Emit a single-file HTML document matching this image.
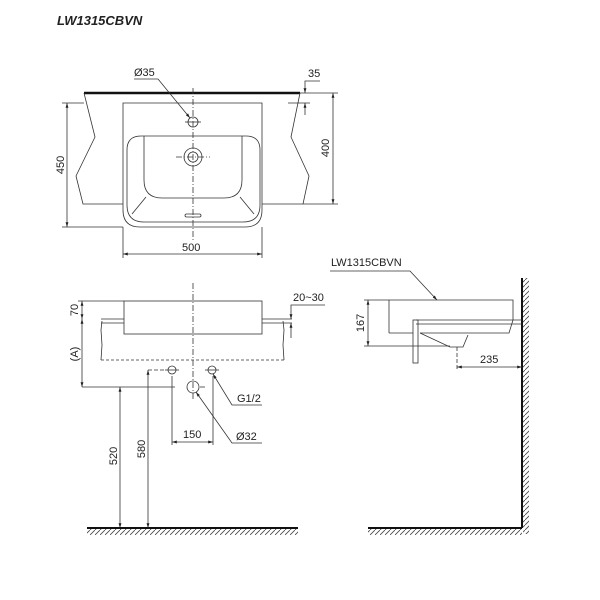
<!DOCTYPE html>
<html><head><style>body{margin:0;background:#fff}svg{display:block}text{font-family:"Liberation Sans",sans-serif;font-size:11px;fill:#222}</style></head><body>
<svg width="600" height="600" viewBox="0 0 600 600" xmlns="http://www.w3.org/2000/svg">
<defs>
<marker id="a" viewBox="0 0 10 10" refX="10" refY="5" markerWidth="6" markerHeight="6" orient="auto-start-reverse"><path d="M0,2L10,5L0,8z" fill="#222"/></marker>
<pattern id="h" width="5" height="5" patternUnits="userSpaceOnUse"><path d="M0,5L5,0" stroke="#444" stroke-width="0.8"/></pattern>
</defs>
<text x="57" y="25" style="font-weight:bold;font-style:italic;font-size:13px">LW1315CBVN</text>
<g stroke="#333" fill="none" stroke-width="0.8">
<!-- top view -->
<line x1="84" y1="93" x2="300" y2="93" stroke-width="2.5" stroke="#111"/>
<polyline points="84,93 95,137 76,176 83,204 123,204"/>
<polyline points="300,93 291,137 309,176 303,204 262,204"/>
<path d="M123,103 H262 V210 Q262,227 245,227 H140 Q123,227 123,210 Z"/>
<path d="M127,150 Q127,136 141,136 H246 Q260,136 260,150 V205 Q260,222 243,222 H144 Q127,222 127,205 Z"/>
<path d="M144,136 V180 Q144,198 162,198 H224 Q242,198 242,180 V136"/>
<line x1="146" y1="197" x2="132" y2="214"/><line x1="240" y1="197" x2="254" y2="214"/>
<circle cx="193" cy="157" r="9"/><circle cx="193" cy="157" r="5"/>
<circle cx="193" cy="122" r="5"/>
<rect x="185" y="214" width="16" height="3" rx="1.5"/>
<line x1="193" y1="88" x2="193" y2="240" stroke-dasharray="6,2,1,2"/>
<line x1="176" y1="157" x2="210" y2="157" stroke-dasharray="6,2,1,2"/>
<line x1="185" y1="122" x2="201" y2="122"/>
<line x1="67" y1="103" x2="67" y2="227" marker-start="url(#a)" marker-end="url(#a)"/>
<line x1="62" y1="227" x2="123" y2="227"/><line x1="62" y1="103" x2="84" y2="103"/>
<line x1="333" y1="93" x2="333" y2="204" marker-start="url(#a)" marker-end="url(#a)"/>
<line x1="300" y1="93" x2="338" y2="93"/><line x1="303" y1="204" x2="338" y2="204"/>
<line x1="123" y1="227" x2="123" y2="258"/><line x1="262" y1="227" x2="262" y2="258"/>
<line x1="123" y1="254" x2="262" y2="254" marker-start="url(#a)" marker-end="url(#a)"/>
<polyline points="134,79 158,79 190,118" marker-end="url(#a)"/>
<polyline points="320,81 305,81 305,93" marker-end="url(#a)"/>
<line x1="305" y1="115" x2="305" y2="103" marker-end="url(#a)"/>
<line x1="288" y1="103" x2="310" y2="103"/>
<!-- front view -->
<rect x="124" y="301" width="138" height="33"/>
<line x1="101" y1="319" x2="124" y2="319"/><line x1="101" y1="323" x2="124" y2="323"/>
<line x1="262" y1="319" x2="292" y2="319"/><line x1="262" y1="323" x2="292" y2="323"/>
<path d="M102,321 L101,330 L102,345 L101,360"/><path d="M283,321 L284,330 L283,345 L284,360"/>
<line x1="101" y1="360" x2="284" y2="360" stroke-dasharray="3,2"/>
<line x1="193" y1="283" x2="193" y2="400" stroke-dasharray="6,2,1,2"/>
<line x1="78" y1="301" x2="124" y2="301"/>
<line x1="82" y1="301" x2="82" y2="319" marker-start="url(#a)" marker-end="url(#a)"/>
<line x1="82" y1="319" x2="82" y2="387" marker-start="url(#a)" marker-end="url(#a)"/>
<line x1="82" y1="387" x2="175" y2="387"/><line x1="200" y1="387" x2="205" y2="387"/>
<line x1="120" y1="387" x2="120" y2="528" marker-start="url(#a)" marker-end="url(#a)"/>
<line x1="148" y1="370" x2="148" y2="528" marker-start="url(#a)" marker-end="url(#a)"/>
<line x1="148" y1="370" x2="166" y2="370" stroke-dasharray="4,2"/>
<circle cx="172" cy="370" r="4"/><circle cx="212" cy="370" r="4"/><circle cx="193" cy="387" r="6"/>
<line x1="165" y1="370" x2="179" y2="370"/><line x1="205" y1="370" x2="219" y2="370"/>
<line x1="172" y1="376" x2="172" y2="445"/><line x1="213" y1="376" x2="213" y2="445"/>
<line x1="172" y1="442" x2="213" y2="442" marker-start="url(#a)" marker-end="url(#a)"/>
<polyline points="262,405 232,405 213,374" marker-end="url(#a)"/>
<polyline points="262,443 232,443 196,392" marker-end="url(#a)"/>
<polyline points="325,305 291,305 291,319" marker-end="url(#a)"/>
<line x1="291" y1="338" x2="291" y2="323" marker-end="url(#a)"/>
<line x1="87" y1="528" x2="298" y2="528" stroke-width="2" stroke="#111"/>
<!-- side view -->
<line x1="522" y1="278" x2="522" y2="528" stroke-width="2" stroke="#111"/>
<line x1="368" y1="528" x2="522" y2="528" stroke-width="2" stroke="#111"/>
<path d="M389,300 H513 V320 L509,333 H420"/>
<line x1="389" y1="300" x2="389" y2="333"/><line x1="389" y1="333" x2="413" y2="333"/>
<path d="M416,320 H522 M416,324 H522"/>
<rect x="413" y="320" width="5" height="43"/>
<path d="M420,333 Q435,340 450,347 L463,347 L468,335"/>
<line x1="457" y1="347" x2="457" y2="370" stroke-dasharray="4,2"/>
<line x1="364" y1="300" x2="389" y2="300"/><line x1="364" y1="346" x2="450" y2="346"/>
<line x1="368" y1="300" x2="368" y2="346" marker-start="url(#a)" marker-end="url(#a)"/>
<line x1="457" y1="367" x2="522" y2="367" marker-start="url(#a)" marker-end="url(#a)"/>
<polyline points="330,271 410,271 437,300" marker-end="url(#a)"/>
</g>
<rect x="87" y="529" width="211" height="6" fill="url(#h)"/>
<rect x="368" y="529" width="154" height="6" fill="url(#h)"/>
<rect x="523" y="278" width="6" height="256" fill="url(#h)"/>
<text x="134" y="76">Ø35</text>
<text x="308" y="77">35</text>
<text x="182" y="251">500</text>
<text transform="translate(64,165) rotate(-90)" text-anchor="middle">450</text>
<text transform="translate(329,148) rotate(-90)" text-anchor="middle">400</text>
<text transform="translate(78,310) rotate(-90)" text-anchor="middle">70</text>
<text transform="translate(78,354) rotate(-90)" text-anchor="middle">(A)</text>
<text transform="translate(117,456) rotate(-90)" text-anchor="middle">520</text>
<text transform="translate(145,449) rotate(-90)" text-anchor="middle">580</text>
<text x="293" y="301">20~30</text>
<text x="183" y="438">150</text>
<text x="237" y="402">G1/2</text>
<text x="236" y="440">Ø32</text>
<text x="331" y="266">LW1315CBVN</text>
<text transform="translate(364,323) rotate(-90)" text-anchor="middle">167</text>
<text x="480" y="363">235</text>
</svg>
</body></html>
